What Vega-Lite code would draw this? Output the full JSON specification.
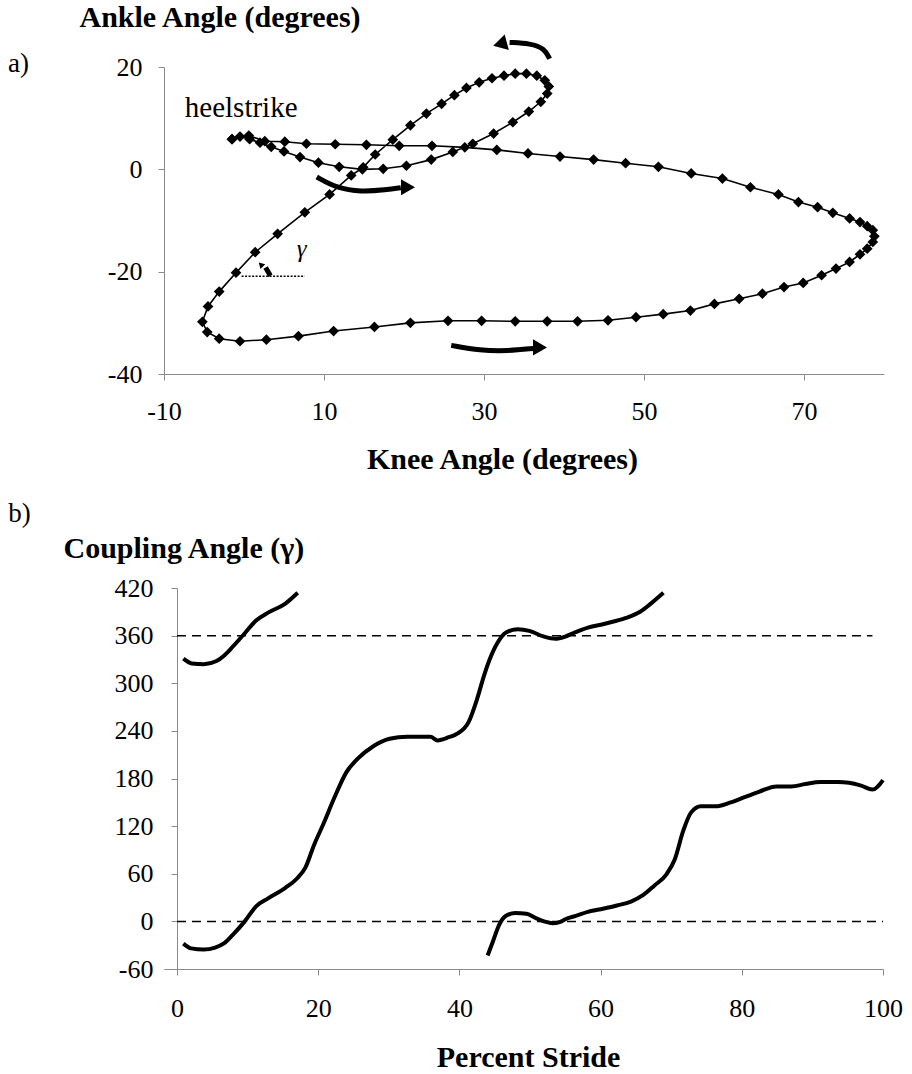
{
  "$schema": "https://vega.github.io/schema/vega-lite/v6.json",
  "padding": {"left": 8, "top": 2, "right": 0, "bottom": 0},
  "spacing": 214,
  "bounds": "flush",
  "config": {
    "view": {"stroke": null},
    "font": "Liberation Serif",
    "axis": {
      "grid": false,
      "domainColor": "#8a8a8a",
      "domainWidth": 1,
      "tickColor": "#8a8a8a",
      "tickSize": 6,
      "tickWidth": 1,
      "labelFont": "Liberation Serif",
      "labelFontSize": 26,
      "labelColor": "black",
      "labelFlush": false,
      "labelOverlap": false,
      "labelExpr": "datum.value + ''",
      "titleFont": "Liberation Serif",
      "titleFontSize": 30,
      "titleFontWeight": "bold",
      "titleColor": "black"
    }
  },
  "vconcat": [
    {
      "width": 720,
      "height": 307,
      "encoding": {
        "x": {"field": "knee", "type": "quantitative", "scale": {"domain": [-10, 80], "nice": false, "zero": false},
          "axis": {"values": [-10, 10, 30, 50, 70], "title": "Knee Angle (degrees)", "labelPadding": 18, "titleX": 338, "titleY": 94, "titleBaseline": "alphabetic"}},
        "y": {"field": "ankle", "type": "quantitative", "scale": {"domain": [-40, 20], "nice": false, "zero": false},
          "axis": {"values": [-40, -20, 0, 20], "title": "Ankle Angle (degrees)", "labelPadding": 16, "titleAngle": 0, "titleAlign": "left", "titleBaseline": "alphabetic", "titleX": -85, "titleY": -41}}
      },
      "layer": [
        {
          "data": {"name": "loop", "values": [
            {"i": 0, "knee": -1.5, "ankle": 5.9}, {"i": 1, "knee": -0.5, "ankle": 6.4}, {"i": 2, "knee": 0.7, "ankle": 5.9},
            {"i": 3, "knee": 2.0, "ankle": 5.2}, {"i": 4, "knee": 3.4, "ankle": 4.4}, {"i": 5, "knee": 5.0, "ankle": 3.5},
            {"i": 6, "knee": 7.0, "ankle": 2.4}, {"i": 7, "knee": 9.3, "ankle": 1.3}, {"i": 8, "knee": 11.9, "ankle": 0.5},
            {"i": 9, "knee": 14.8, "ankle": 0.0}, {"i": 10, "knee": 17.4, "ankle": 0.1}, {"i": 11, "knee": 20.3, "ankle": 0.7},
            {"i": 12, "knee": 23.4, "ankle": 1.9}, {"i": 13, "knee": 26.1, "ankle": 3.4}, {"i": 14, "knee": 28.6, "ankle": 5.0},
            {"i": 15, "knee": 31.2, "ankle": 7.0}, {"i": 16, "knee": 33.6, "ankle": 9.2}, {"i": 17, "knee": 35.6, "ankle": 11.3},
            {"i": 18, "knee": 37.1, "ankle": 13.2}, {"i": 19, "knee": 37.9, "ankle": 14.8}, {"i": 20, "knee": 38.1, "ankle": 16.2},
            {"i": 21, "knee": 37.6, "ankle": 17.4}, {"i": 22, "knee": 36.6, "ankle": 18.3}, {"i": 23, "knee": 35.3, "ankle": 18.7},
            {"i": 24, "knee": 33.9, "ankle": 18.7}, {"i": 25, "knee": 32.5, "ankle": 18.3}, {"i": 26, "knee": 31.0, "ankle": 17.8},
            {"i": 27, "knee": 29.4, "ankle": 17.0}, {"i": 28, "knee": 27.8, "ankle": 15.9}, {"i": 29, "knee": 26.3, "ankle": 14.5},
            {"i": 30, "knee": 24.7, "ankle": 12.8}, {"i": 31, "knee": 22.8, "ankle": 10.9}, {"i": 32, "knee": 20.8, "ankle": 8.6},
            {"i": 33, "knee": 18.6, "ankle": 5.8}, {"i": 34, "knee": 16.4, "ankle": 2.9}, {"i": 35, "knee": 14.9, "ankle": 0.4},
            {"i": 36, "knee": 13.4, "ankle": -1.2}, {"i": 37, "knee": 10.7, "ankle": -4.9}, {"i": 38, "knee": 7.6, "ankle": -8.4},
            {"i": 39, "knee": 4.2, "ankle": -12.6}, {"i": 40, "knee": 1.4, "ankle": -16.2}, {"i": 41, "knee": -1.0, "ankle": -20.2},
            {"i": 42, "knee": -3.1, "ankle": -23.9}, {"i": 43, "knee": -4.5, "ankle": -26.8}, {"i": 44, "knee": -5.2, "ankle": -29.8},
            {"i": 45, "knee": -4.6, "ankle": -31.8}, {"i": 46, "knee": -3.1, "ankle": -33.1}, {"i": 47, "knee": -0.5, "ankle": -33.6},
            {"i": 48, "knee": 2.8, "ankle": -33.3}, {"i": 49, "knee": 6.8, "ankle": -32.6}, {"i": 50, "knee": 11.2, "ankle": -31.6},
            {"i": 51, "knee": 16.3, "ankle": -30.8}, {"i": 52, "knee": 20.8, "ankle": -30.0}, {"i": 53, "knee": 25.5, "ankle": -29.6},
            {"i": 54, "knee": 29.7, "ankle": -29.6}, {"i": 55, "knee": 33.9, "ankle": -29.7}, {"i": 56, "knee": 37.9, "ankle": -29.7},
            {"i": 57, "knee": 41.7, "ankle": -29.7}, {"i": 58, "knee": 45.5, "ankle": -29.5}, {"i": 59, "knee": 49.0, "ankle": -28.9},
            {"i": 60, "knee": 52.4, "ankle": -28.3}, {"i": 61, "knee": 55.8, "ankle": -27.6}, {"i": 62, "knee": 58.8, "ankle": -26.3},
            {"i": 63, "knee": 61.9, "ankle": -25.3}, {"i": 64, "knee": 64.8, "ankle": -24.3}, {"i": 65, "knee": 67.5, "ankle": -23.0},
            {"i": 66, "knee": 69.9, "ankle": -22.2}, {"i": 67, "knee": 72.2, "ankle": -20.7}, {"i": 68, "knee": 74.0, "ankle": -19.4},
            {"i": 69, "knee": 75.7, "ankle": -18.1}, {"i": 70, "knee": 77.0, "ankle": -16.6}, {"i": 71, "knee": 77.9, "ankle": -15.5},
            {"i": 72, "knee": 78.6, "ankle": -14.2}, {"i": 73, "knee": 78.8, "ankle": -13.1}, {"i": 74, "knee": 78.6, "ankle": -11.9},
            {"i": 75, "knee": 77.9, "ankle": -11.1}, {"i": 76, "knee": 77.0, "ankle": -10.3}, {"i": 77, "knee": 75.7, "ankle": -9.6},
            {"i": 78, "knee": 73.6, "ankle": -8.5}, {"i": 79, "knee": 71.7, "ankle": -7.4}, {"i": 80, "knee": 69.3, "ankle": -6.4},
            {"i": 81, "knee": 66.8, "ankle": -4.9}, {"i": 82, "knee": 63.3, "ankle": -3.5}, {"i": 83, "knee": 59.8, "ankle": -1.8},
            {"i": 84, "knee": 55.9, "ankle": -0.8}, {"i": 85, "knee": 51.8, "ankle": 0.5}, {"i": 86, "knee": 47.7, "ankle": 1.2},
            {"i": 87, "knee": 43.7, "ankle": 1.9}, {"i": 88, "knee": 39.5, "ankle": 2.5}, {"i": 89, "knee": 35.5, "ankle": 3.1},
            {"i": 90, "knee": 31.6, "ankle": 3.8}, {"i": 91, "knee": 27.6, "ankle": 4.3}, {"i": 92, "knee": 23.5, "ankle": 4.6},
            {"i": 93, "knee": 19.4, "ankle": 4.6}, {"i": 94, "knee": 15.3, "ankle": 4.8}, {"i": 95, "knee": 11.4, "ankle": 4.9},
            {"i": 96, "knee": 7.8, "ankle": 5.0}, {"i": 97, "knee": 5.1, "ankle": 5.4}, {"i": 98, "knee": 2.6, "ankle": 5.5},
            {"i": 99, "knee": 0.6, "ankle": 6.6}, {"i": 100, "knee": -1.5, "ankle": 5.9}
          ]},
          "mark": {"type": "line", "color": "black", "strokeWidth": 1.6},
          "encoding": {"order": {"field": "i", "type": "quantitative"}}
        },
        {
          "data": {"name": "loop"},
          "mark": {"type": "point", "shape": "diamond", "filled": true, "color": "black", "size": 115, "opacity": 1}
        },
        {
          "data": {"values": [
            {"arrow": "top", "o": 1, "knee": 38.2, "ankle": 21.6},
            {"arrow": "top", "o": 2, "knee": 37.6, "ankle": 23.6},
            {"arrow": "top", "o": 3, "knee": 35.8, "ankle": 24.6},
            {"arrow": "top", "o": 4, "knee": 33.2, "ankle": 24.8},
            {"arrow": "mid", "o": 1, "knee": 9.1, "ankle": -1.5},
            {"arrow": "mid", "o": 2, "knee": 11.6, "ankle": -3.7},
            {"arrow": "mid", "o": 3, "knee": 14.6, "ankle": -4.4},
            {"arrow": "mid", "o": 4, "knee": 17.8, "ankle": -4.0},
            {"arrow": "mid", "o": 5, "knee": 19.6, "ankle": -3.6},
            {"arrow": "bot", "o": 1, "knee": 25.9, "ankle": -34.4},
            {"arrow": "bot", "o": 2, "knee": 29.5, "ankle": -35.4},
            {"arrow": "bot", "o": 3, "knee": 33.0, "ankle": -35.5},
            {"arrow": "bot", "o": 4, "knee": 36.2, "ankle": -35.0},
            {"arrow": "gam", "o": 1, "knee": 3.3, "ankle": -20.8},
            {"arrow": "gam", "o": 2, "knee": 2.7, "ankle": -19.2}
          ]},
          "mark": {"type": "line", "color": "black", "strokeWidth": 5, "interpolate": "basis", "strokeCap": "butt"},
          "encoding": {"detail": {"field": "arrow"}, "order": {"field": "o", "type": "quantitative"}}
        },
        {
          "data": {"values": [{"knee": 20.5, "ankle": -3.5}, {"knee": 37.0, "ankle": -34.8}]},
          "mark": {"type": "point", "shape": "triangle-right", "filled": true, "color": "black", "size": 260, "opacity": 1}
        },
        {
          "data": {"values": [{"knee": 32.0, "ankle": 24.5}]},
          "mark": {"type": "point", "shape": "triangle-left", "filled": true, "color": "black", "size": 260, "opacity": 1, "angle": -15}
        },
        {
          "data": {"values": [{"knee": 2.1, "ankle": -18.6}]},
          "mark": {"type": "point", "shape": "triangle-up", "filled": true, "color": "black", "size": 45, "opacity": 1, "angle": -45}
        },
        {
          "data": {"values": [{"knee": -0.3, "knee2": 7.6, "ankle": -20.9}]},
          "mark": {"type": "rule", "color": "black", "strokeWidth": 1.3, "strokeDash": [2, 1.5]},
          "encoding": {"x2": {"field": "knee2"}}
        },
        {
          "data": {"values": [{"knee": 7.2, "ankle": -15.5, "label": "\u03b3"}]},
          "mark": {"type": "text", "font": "Liberation Serif", "fontStyle": "italic", "fontSize": 25, "color": "black", "align": "center", "baseline": "middle"},
          "encoding": {"text": {"field": "label"}}
        },
        {
          "data": {"values": [{"knee": -7.4, "ankle": 10.3, "label": "heelstrike"}]},
          "mark": {"type": "text", "font": "Liberation Serif", "fontSize": 29, "color": "black", "align": "left", "baseline": "alphabetic"},
          "encoding": {"text": {"field": "label"}}
        },
        {
          "data": {"values": [{"knee": -29.5, "ankle": 19.1, "label": "a)"}]},
          "mark": {"type": "text", "font": "Liberation Serif", "fontSize": 27, "color": "black", "align": "left", "baseline": "alphabetic"},
          "encoding": {"text": {"field": "label"}}
        }
      ]
    },
    {
      "width": 719,
      "height": 381,
      "encoding": {
        "x": {"field": "stride", "type": "quantitative", "scale": {"domain": [-1.84, 100], "nice": false, "zero": false},
          "axis": {"values": [0, 20, 40, 60, 80, 100], "title": "Percent Stride", "labelPadding": 20, "titleX": 364, "titleY": 97, "titleBaseline": "alphabetic"}},
        "y": {"field": "gamma", "type": "quantitative", "scale": {"domain": [-60, 420], "nice": false, "zero": false},
          "axis": {"values": [-60, 0, 60, 120, 180, 240, 300, 360, 420], "offset": -13, "title": "Coupling Angle (\u03b3)", "labelPadding": 18, "titleAngle": 0, "titleAlign": "left", "titleBaseline": "alphabetic", "titleX": -114, "titleY": -31}}
      },
      "layer": [
        {
          "data": {"values": [{"stride": 0, "stride2": 100, "gamma": 0}, {"stride": 0, "stride2": 98.5, "gamma": 360}]},
          "mark": {"type": "rule", "color": "black", "strokeWidth": 1.5, "strokeDash": [9, 6]},
          "encoding": {"x2": {"field": "stride2"}}
        },
        {
          "data": {"values": [
            {"seg": "a", "stride": 0.9, "gamma": -28}, {"seg": "a", "stride": 2.0, "gamma": -34}, {"seg": "a", "stride": 3.8, "gamma": -35.5},
            {"seg": "a", "stride": 5.4, "gamma": -33}, {"seg": "a", "stride": 6.7, "gamma": -27.5}, {"seg": "a", "stride": 7.9, "gamma": -17},
            {"seg": "a", "stride": 9.6, "gamma": 0}, {"seg": "a", "stride": 11.2, "gamma": 19}, {"seg": "a", "stride": 12.9, "gamma": 29},
            {"seg": "a", "stride": 15.3, "gamma": 42}, {"seg": "a", "stride": 17.0, "gamma": 54}, {"seg": "a", "stride": 18.2, "gamma": 68},
            {"seg": "a", "stride": 19.4, "gamma": 96}, {"seg": "a", "stride": 20.7, "gamma": 122}, {"seg": "a", "stride": 22.3, "gamma": 156},
            {"seg": "a", "stride": 24.0, "gamma": 188}, {"seg": "a", "stride": 25.6, "gamma": 205}, {"seg": "a", "stride": 27.7, "gamma": 220},
            {"seg": "a", "stride": 30.1, "gamma": 230}, {"seg": "a", "stride": 32.6, "gamma": 232.5}, {"seg": "a", "stride": 35.9, "gamma": 232.5},
            {"seg": "a", "stride": 36.9, "gamma": 228}, {"seg": "a", "stride": 38.5, "gamma": 232}, {"seg": "a", "stride": 39.6, "gamma": 236},
            {"seg": "a", "stride": 41.3, "gamma": 251}, {"seg": "a", "stride": 42.5, "gamma": 280}, {"seg": "a", "stride": 43.5, "gamma": 310},
            {"seg": "a", "stride": 44.2, "gamma": 328}, {"seg": "a", "stride": 45.4, "gamma": 351}, {"seg": "a", "stride": 46.6, "gamma": 364},
            {"seg": "a", "stride": 48.3, "gamma": 368}, {"seg": "a", "stride": 49.9, "gamma": 366}, {"seg": "a", "stride": 51.9, "gamma": 359},
            {"seg": "a", "stride": 53.6, "gamma": 356}, {"seg": "a", "stride": 54.9, "gamma": 358.5}, {"seg": "a", "stride": 56.1, "gamma": 363},
            {"seg": "a", "stride": 58.2, "gamma": 370}, {"seg": "a", "stride": 60.6, "gamma": 375}, {"seg": "a", "stride": 63.5, "gamma": 382},
            {"seg": "a", "stride": 65.6, "gamma": 390}, {"seg": "a", "stride": 67.2, "gamma": 401}, {"seg": "a", "stride": 68.9, "gamma": 414},
            {"seg": "b", "stride": 0.9, "gamma": 331}, {"seg": "b", "stride": 2.1, "gamma": 325}, {"seg": "b", "stride": 3.8, "gamma": 324},
            {"seg": "b", "stride": 5.6, "gamma": 328}, {"seg": "b", "stride": 6.7, "gamma": 335}, {"seg": "b", "stride": 7.9, "gamma": 346},
            {"seg": "b", "stride": 9.6, "gamma": 363}, {"seg": "b", "stride": 11.2, "gamma": 379}, {"seg": "b", "stride": 12.9, "gamma": 389},
            {"seg": "b", "stride": 15.3, "gamma": 400}, {"seg": "b", "stride": 17.1, "gamma": 414},
            {"seg": "c", "stride": 44.0, "gamma": -43}, {"seg": "c", "stride": 44.8, "gamma": -24}, {"seg": "c", "stride": 45.6, "gamma": -5},
            {"seg": "c", "stride": 46.6, "gamma": 7}, {"seg": "c", "stride": 47.9, "gamma": 10.5}, {"seg": "c", "stride": 49.5, "gamma": 9.5},
            {"seg": "c", "stride": 50.7, "gamma": 4.7}, {"seg": "c", "stride": 52.0, "gamma": 0}, {"seg": "c", "stride": 53.2, "gamma": -2.4},
            {"seg": "c", "stride": 54.2, "gamma": -1}, {"seg": "c", "stride": 55.3, "gamma": 3.8}, {"seg": "c", "stride": 56.5, "gamma": 7},
            {"seg": "c", "stride": 58.2, "gamma": 12}, {"seg": "c", "stride": 59.8, "gamma": 15}, {"seg": "c", "stride": 62.3, "gamma": 20},
            {"seg": "c", "stride": 64.3, "gamma": 25}, {"seg": "c", "stride": 66.0, "gamma": 33}, {"seg": "c", "stride": 67.6, "gamma": 45},
            {"seg": "c", "stride": 69.3, "gamma": 59}, {"seg": "c", "stride": 70.5, "gamma": 78}, {"seg": "c", "stride": 71.7, "gamma": 114},
            {"seg": "c", "stride": 72.8, "gamma": 137}, {"seg": "c", "stride": 74.2, "gamma": 145}, {"seg": "c", "stride": 76.3, "gamma": 145},
            {"seg": "c", "stride": 78.3, "gamma": 149.5}, {"seg": "c", "stride": 80.4, "gamma": 156.5}, {"seg": "c", "stride": 82.5, "gamma": 163.5},
            {"seg": "c", "stride": 84.9, "gamma": 170}, {"seg": "c", "stride": 87.0, "gamma": 170}, {"seg": "c", "stride": 89.0, "gamma": 173},
            {"seg": "c", "stride": 91.1, "gamma": 175.6}, {"seg": "c", "stride": 93.6, "gamma": 175.6}, {"seg": "c", "stride": 95.2, "gamma": 174.6},
            {"seg": "c", "stride": 96.9, "gamma": 171}, {"seg": "c", "stride": 98.5, "gamma": 166}, {"seg": "c", "stride": 100.0, "gamma": 178}
          ]},
          "mark": {"type": "line", "color": "black", "strokeWidth": 4, "interpolate": "monotone", "strokeCap": "butt"},
          "encoding": {"detail": {"field": "seg"}}
        },
        {
          "data": {"values": [{"stride": -23.9, "gamma": 503, "label": "b)"}]},
          "mark": {"type": "text", "font": "Liberation Serif", "fontSize": 27, "color": "black", "align": "left", "baseline": "alphabetic"},
          "encoding": {"text": {"field": "label"}}
        }
      ]
    }
  ]
}
